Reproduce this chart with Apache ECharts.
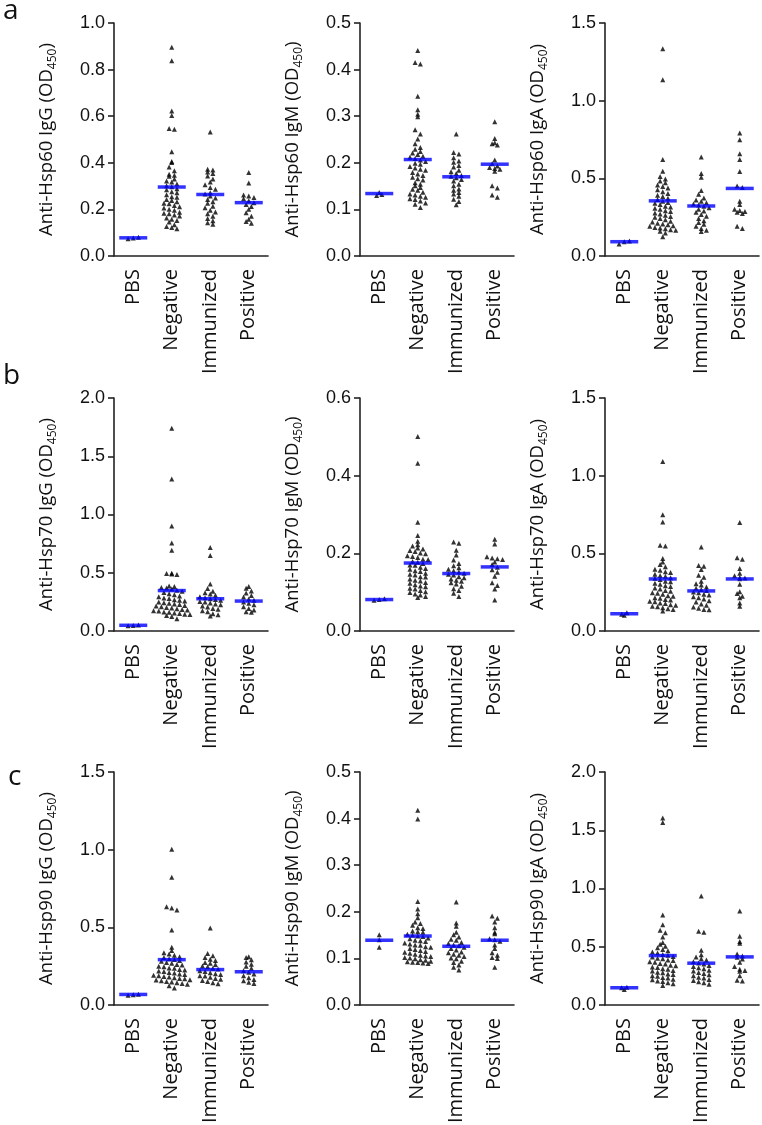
<!DOCTYPE html>
<html>
<head>
<meta charset="utf-8">
<script src="https://cdn.jsdelivr.net/npm/echarts@6/dist/echarts.min.js"></script>
<style>
  html, body { margin: 0; padding: 0; background: #fff; }
  #chart { width: 762px; height: 1125px; }
</style>
</head>
<body>
<div id="chart"></div>
<script>
const groups = ['PBS', 'Negative', 'Immunized', 'Positive']

// panel order: Hsp60 IgG/IgM/IgA, Hsp70 IgG/IgM/IgA, Hsp90 IgG/IgM/IgA
const antigens = ['Hsp60', 'Hsp60', 'Hsp60', 'Hsp70', 'Hsp70', 'Hsp70', 'Hsp90', 'Hsp90', 'Hsp90']
const isotypes = ['IgG', 'IgM', 'IgA', 'IgG', 'IgM', 'IgA', 'IgG', 'IgM', 'IgA']
const yMax = [1.0, 0.5, 1.5, 2.0, 0.6, 1.5, 1.5, 0.5, 2.0]
const yStep = [0.2, 0.1, 0.5, 0.5, 0.2, 0.5, 0.5, 0.1, 0.5]
const panelLetters = ['a', 'b', 'c']

// ---- Hsp60 ----
const hsp60IgG_pbs = [0.074, 0.077, 0.080]
const hsp60IgG_neg = [0.896, 0.838, 0.622, 0.603, 0.547, 0.544, 0.447, 0.406, 0.401, 0.382, 0.366, 0.351, 0.347, 0.342, 0.331, 0.322, 0.318, 0.309, 0.302, 0.297, 0.289, 0.284, 0.276, 0.271, 0.263, 0.254, 0.252, 0.243, 0.238, 0.233, 0.226, 0.224, 0.217, 0.211, 0.206, 0.201, 0.196, 0.188, 0.184, 0.181, 0.176, 0.172, 0.163, 0.158, 0.152, 0.146, 0.134, 0.127, 0.122, 0.117]
const hsp60IgG_imm = [0.532, 0.372, 0.369, 0.361, 0.354, 0.343, 0.331, 0.318, 0.306, 0.294, 0.287, 0.271, 0.266, 0.257, 0.249, 0.243, 0.233, 0.226, 0.214, 0.207, 0.196, 0.189, 0.181, 0.171, 0.161, 0.151, 0.143, 0.136]
const hsp60IgG_pos = [0.358, 0.313, 0.262, 0.257, 0.251, 0.246, 0.237, 0.229, 0.221, 0.212, 0.201, 0.186, 0.171, 0.158, 0.148, 0.141]
const hsp60IgG_mean = [0.078, 0.296, 0.264, 0.229]

const hsp60IgM_pbs = [0.130, 0.132, 0.136]
const hsp60IgM_neg = [0.441, 0.415, 0.412, 0.343, 0.314, 0.304, 0.299, 0.271, 0.262, 0.251, 0.241, 0.233, 0.229, 0.224, 0.221, 0.218, 0.214, 0.212, 0.209, 0.206, 0.203, 0.199, 0.197, 0.192, 0.189, 0.186, 0.184, 0.179, 0.176, 0.173, 0.169, 0.166, 0.163, 0.157, 0.154, 0.151, 0.147, 0.143, 0.141, 0.137, 0.133, 0.131, 0.128, 0.126, 0.123, 0.121, 0.118, 0.114, 0.111, 0.104]
const hsp60IgM_imm = [0.262, 0.222, 0.219, 0.211, 0.204, 0.201, 0.194, 0.191, 0.184, 0.181, 0.177, 0.173, 0.171, 0.168, 0.164, 0.161, 0.154, 0.151, 0.144, 0.141, 0.136, 0.133, 0.128, 0.122, 0.117, 0.110]
const hsp60IgM_pos = [0.288, 0.252, 0.243, 0.241, 0.238, 0.206, 0.198, 0.193, 0.190, 0.188, 0.186, 0.182, 0.151, 0.146, 0.131, 0.126]
const hsp60IgM_mean = [0.134, 0.207, 0.170, 0.197]

const hsp60IgA_pbs = [0.078, 0.091, 0.097]
const hsp60IgA_neg = [1.334, 1.134, 0.622, 0.546, 0.511, 0.496, 0.483, 0.472, 0.457, 0.448, 0.437, 0.426, 0.413, 0.403, 0.391, 0.383, 0.371, 0.364, 0.353, 0.344, 0.339, 0.331, 0.321, 0.316, 0.307, 0.301, 0.291, 0.286, 0.277, 0.271, 0.263, 0.254, 0.249, 0.241, 0.233, 0.224, 0.219, 0.211, 0.206, 0.201, 0.194, 0.191, 0.184, 0.181, 0.176, 0.169, 0.166, 0.159, 0.148, 0.124]
const hsp60IgA_imm = [0.638, 0.531, 0.507, 0.421, 0.398, 0.373, 0.361, 0.352, 0.343, 0.334, 0.329, 0.321, 0.311, 0.301, 0.289, 0.281, 0.267, 0.256, 0.241, 0.227, 0.216, 0.204, 0.191, 0.177, 0.166, 0.157]
const hsp60IgA_pos = [0.792, 0.748, 0.658, 0.621, 0.544, 0.451, 0.441, 0.352, 0.331, 0.301, 0.293, 0.287, 0.281, 0.274, 0.191, 0.177]
const hsp60IgA_mean = [0.092, 0.355, 0.322, 0.435]

// ---- Hsp70 ----
const hsp70IgG_pbs = [0.044, 0.048, 0.052]
const hsp70IgG_neg = [1.740, 1.305, 0.902, 0.756, 0.694, 0.496, 0.493, 0.489, 0.486, 0.386, 0.381, 0.374, 0.369, 0.361, 0.349, 0.341, 0.331, 0.319, 0.311, 0.301, 0.293, 0.284, 0.279, 0.269, 0.264, 0.257, 0.249, 0.243, 0.239, 0.231, 0.227, 0.219, 0.214, 0.209, 0.201, 0.197, 0.191, 0.184, 0.181, 0.174, 0.171, 0.164, 0.161, 0.154, 0.151, 0.144, 0.141, 0.133, 0.124, 0.106]
const hsp70IgG_imm = [0.716, 0.648, 0.404, 0.364, 0.341, 0.329, 0.318, 0.306, 0.294, 0.286, 0.277, 0.271, 0.263, 0.254, 0.249, 0.241, 0.231, 0.226, 0.214, 0.206, 0.194, 0.186, 0.174, 0.166, 0.149, 0.139, 0.128]
const hsp70IgG_pos = [0.382, 0.366, 0.344, 0.326, 0.304, 0.291, 0.274, 0.263, 0.249, 0.238, 0.226, 0.209, 0.194, 0.181, 0.166, 0.161]
const hsp70IgG_mean = [0.049, 0.347, 0.277, 0.257]

const hsp70IgM_pbs = [0.079, 0.081, 0.083]
const hsp70IgM_neg = [0.501, 0.432, 0.280, 0.246, 0.231, 0.222, 0.219, 0.214, 0.211, 0.207, 0.205, 0.201, 0.199, 0.194, 0.192, 0.189, 0.185, 0.184, 0.179, 0.177, 0.174, 0.170, 0.169, 0.164, 0.161, 0.159, 0.155, 0.153, 0.149, 0.146, 0.144, 0.140, 0.139, 0.134, 0.131, 0.129, 0.125, 0.123, 0.119, 0.116, 0.114, 0.110, 0.108, 0.104, 0.101, 0.099, 0.095, 0.093, 0.089, 0.086]
const hsp70IgM_imm = [0.229, 0.226, 0.208, 0.196, 0.183, 0.174, 0.168, 0.163, 0.159, 0.155, 0.152, 0.149, 0.146, 0.144, 0.140, 0.137, 0.134, 0.131, 0.128, 0.124, 0.121, 0.115, 0.109, 0.104, 0.097, 0.089]
const hsp70IgM_pos = [0.236, 0.224, 0.191, 0.188, 0.186, 0.184, 0.178, 0.171, 0.164, 0.158, 0.151, 0.141, 0.124, 0.117, 0.108, 0.080]
const hsp70IgM_mean = [0.081, 0.175, 0.148, 0.165]

const hsp70IgA_pbs = [0.101, 0.108, 0.118]
const hsp70IgA_neg = [1.092, 0.748, 0.702, 0.552, 0.548, 0.466, 0.444, 0.428, 0.413, 0.397, 0.391, 0.381, 0.376, 0.366, 0.357, 0.353, 0.343, 0.339, 0.331, 0.321, 0.317, 0.307, 0.301, 0.292, 0.287, 0.277, 0.271, 0.261, 0.256, 0.247, 0.243, 0.236, 0.227, 0.223, 0.214, 0.211, 0.203, 0.199, 0.191, 0.189, 0.181, 0.177, 0.169, 0.166, 0.159, 0.156, 0.149, 0.144, 0.138, 0.128]
const hsp70IgA_imm = [0.541, 0.422, 0.417, 0.396, 0.359, 0.346, 0.321, 0.304, 0.296, 0.284, 0.276, 0.267, 0.261, 0.251, 0.246, 0.237, 0.231, 0.221, 0.214, 0.206, 0.194, 0.186, 0.174, 0.166, 0.154, 0.146, 0.139, 0.136]
const hsp70IgA_pos = [0.698, 0.471, 0.462, 0.402, 0.372, 0.356, 0.344, 0.341, 0.336, 0.301, 0.252, 0.241, 0.223, 0.214, 0.181, 0.159]
const hsp70IgA_mean = [0.111, 0.335, 0.258, 0.335]

// ---- Hsp90 ----
const hsp90IgG_pbs = [0.062, 0.066, 0.070]
const hsp90IgG_neg = [1.002, 0.822, 0.633, 0.624, 0.611, 0.483, 0.372, 0.351, 0.337, 0.329, 0.321, 0.311, 0.306, 0.297, 0.293, 0.286, 0.281, 0.273, 0.269, 0.261, 0.257, 0.249, 0.246, 0.239, 0.236, 0.229, 0.226, 0.219, 0.216, 0.209, 0.206, 0.199, 0.197, 0.191, 0.189, 0.183, 0.181, 0.176, 0.171, 0.169, 0.163, 0.161, 0.156, 0.151, 0.148, 0.143, 0.139, 0.134, 0.124, 0.109]
const hsp90IgG_imm = [0.496, 0.331, 0.317, 0.306, 0.294, 0.286, 0.274, 0.269, 0.261, 0.251, 0.246, 0.237, 0.231, 0.221, 0.216, 0.207, 0.201, 0.196, 0.189, 0.186, 0.178, 0.171, 0.166, 0.158, 0.151, 0.143, 0.136]
const hsp90IgG_pos = [0.311, 0.306, 0.291, 0.277, 0.263, 0.249, 0.236, 0.221, 0.211, 0.199, 0.189, 0.176, 0.164, 0.156, 0.146, 0.138]
const hsp90IgG_mean = [0.068, 0.292, 0.228, 0.214]

const hsp90IgM_pbs = [0.151, 0.140, 0.124]
const hsp90IgM_neg = [0.418, 0.399, 0.222, 0.206, 0.196, 0.187, 0.178, 0.175, 0.171, 0.166, 0.164, 0.159, 0.157, 0.156, 0.152, 0.150, 0.148, 0.147, 0.144, 0.142, 0.139, 0.138, 0.136, 0.133, 0.131, 0.129, 0.128, 0.125, 0.124, 0.121, 0.119, 0.117, 0.115, 0.113, 0.111, 0.109, 0.107, 0.105, 0.104, 0.102, 0.101, 0.099, 0.097, 0.096, 0.094, 0.093, 0.092, 0.091, 0.090, 0.089]
const hsp90IgM_imm = [0.221, 0.176, 0.169, 0.156, 0.151, 0.146, 0.141, 0.139, 0.134, 0.132, 0.129, 0.127, 0.124, 0.121, 0.118, 0.114, 0.112, 0.109, 0.107, 0.104, 0.101, 0.099, 0.094, 0.091, 0.086, 0.081, 0.075]
const hsp90IgM_pos = [0.191, 0.186, 0.178, 0.166, 0.156, 0.153, 0.142, 0.140, 0.137, 0.129, 0.121, 0.112, 0.107, 0.102, 0.100, 0.081]
const hsp90IgM_mean = [0.139, 0.148, 0.126, 0.139]

const hsp90IgA_pbs = [0.134, 0.147, 0.152]
const hsp90IgA_neg = [1.606, 1.566, 0.773, 0.689, 0.641, 0.621, 0.583, 0.536, 0.521, 0.504, 0.491, 0.477, 0.466, 0.454, 0.446, 0.433, 0.426, 0.417, 0.411, 0.401, 0.396, 0.387, 0.381, 0.371, 0.366, 0.357, 0.351, 0.341, 0.336, 0.327, 0.321, 0.311, 0.306, 0.297, 0.291, 0.281, 0.276, 0.267, 0.261, 0.251, 0.246, 0.237, 0.231, 0.221, 0.216, 0.207, 0.201, 0.191, 0.183, 0.168]
const hsp90IgA_imm = [0.936, 0.634, 0.624, 0.471, 0.431, 0.413, 0.397, 0.386, 0.371, 0.361, 0.351, 0.339, 0.331, 0.319, 0.311, 0.299, 0.291, 0.279, 0.271, 0.259, 0.251, 0.239, 0.231, 0.219, 0.211, 0.199, 0.191, 0.179]
const hsp90IgA_pos = [0.806, 0.591, 0.544, 0.531, 0.437, 0.421, 0.409, 0.394, 0.366, 0.331, 0.306, 0.297, 0.289, 0.251, 0.212, 0.207]
const hsp90IgA_mean = [0.148, 0.424, 0.359, 0.413]

const panelPoints = [
  [hsp60IgG_pbs, hsp60IgG_neg, hsp60IgG_imm, hsp60IgG_pos],
  [hsp60IgM_pbs, hsp60IgM_neg, hsp60IgM_imm, hsp60IgM_pos],
  [hsp60IgA_pbs, hsp60IgA_neg, hsp60IgA_imm, hsp60IgA_pos],
  [hsp70IgG_pbs, hsp70IgG_neg, hsp70IgG_imm, hsp70IgG_pos],
  [hsp70IgM_pbs, hsp70IgM_neg, hsp70IgM_imm, hsp70IgM_pos],
  [hsp70IgA_pbs, hsp70IgA_neg, hsp70IgA_imm, hsp70IgA_pos],
  [hsp90IgG_pbs, hsp90IgG_neg, hsp90IgG_imm, hsp90IgG_pos],
  [hsp90IgM_pbs, hsp90IgM_neg, hsp90IgM_imm, hsp90IgM_pos],
  [hsp90IgA_pbs, hsp90IgA_neg, hsp90IgA_imm, hsp90IgA_pos]
]
const panelMeans = [
  hsp60IgG_mean, hsp60IgM_mean, hsp60IgA_mean,
  hsp70IgG_mean, hsp70IgM_mean, hsp70IgA_mean,
  hsp90IgG_mean, hsp90IgM_mean, hsp90IgA_mean
]

// layout
const colLeft = [114, 360, 605]
const rowTop = [23, 398, 772]
const plotW = 154
const plotH = 233
const axisColor = '#222'
const textFont = 'Open Sans'
const tickFont = 'Liberation Sans'

// column-scatter spreading: points falling in the same pixel row sit side by side
const swarmOffsets = (values, max) => {
  const rowPx = 4.6
  const step = 5.2
  const bins = {}
  values.forEach((v, i) => {
    const b = Math.round(v / max * plotH / rowPx)
    ;(bins[b] = bins[b] || []).push(i)
  })
  const off = new Array(values.length).fill(0)
  Object.values(bins).forEach(idx => {
    idx.forEach((i, k) => { off[i] = (k - (idx.length - 1) / 2) * step })
  })
  return off
}

const grids = []
const xAxes = []
const yAxes = []
const series = []

for (let p = 0; p < 9; p++) {
  const r = Math.floor(p / 3)
  const c = p % 3
  grids.push({
    left: colLeft[c], top: rowTop[r], width: plotW, height: plotH,
    containLabel: false, outerBoundsMode: 'none'
  })
  xAxes.push({
    type: 'category', gridIndex: p, data: groups,
    axisLine: { lineStyle: { color: axisColor, width: 1.6 } },
    axisTick: { alignWithLabel: true, length: 6, lineStyle: { color: axisColor, width: 1.6 } },
    axisLabel: { rotate: 90, interval: 0, margin: 13, fontSize: 20, fontFamily: textFont, color: '#111' },
    splitLine: { show: false }
  })
  yAxes.push({
    type: 'value', gridIndex: p, min: 0, max: yMax[p], interval: yStep[p],
    axisLine: { show: true, lineStyle: { color: axisColor, width: 1.6 } },
    axisTick: { show: true, length: 6, lineStyle: { color: axisColor, width: 1.6 } },
    axisLabel: { fontSize: 18, fontFamily: tickFont, color: '#111', margin: 9, formatter: v => v.toFixed(1) },
    splitLine: { show: false },
    name: `{t|Anti-${antigens[p]} ${isotypes[p]} (OD}{s|450}{t|)}`,
    nameLocation: 'middle',
    nameGap: 55,
    nameTextStyle: {
      rich: {
        t: { fontSize: 18.5, fontFamily: textFont, color: '#111', lineHeight: 24 },
        s: { fontSize: 12, fontFamily: textFont, color: '#111', lineHeight: 12, verticalAlign: 'bottom' }
      }
    }
  })

  const pts = []
  panelPoints[p].forEach((vals, g) => {
    const off = swarmOffsets(vals, yMax[p])
    vals.forEach((v, i) => pts.push({ value: [g, v], symbolOffset: [off[i], 0] }))
  })
  series.push({
    type: 'scatter', xAxisIndex: p, yAxisIndex: p,
    symbol: 'triangle', symbolSize: 5,
    itemStyle: { color: '#000' },
    data: pts, z: 2
  })
  series.push({
    type: 'scatter', xAxisIndex: p, yAxisIndex: p,
    symbol: 'rect', symbolSize: [28, 3.5],
    itemStyle: { color: '#0000ff' },
    data: panelMeans[p].map((m, g) => [g, m]), z: 3
  })
}

const letterY = [11, 376, 777]
const letterX = [3, 3, 8]

const chart = echarts.init(document.getElementById('chart'))
chart.setOption({
  animation: false,
  backgroundColor: '#fff',
  grid: grids,
  xAxis: xAxes,
  yAxis: yAxes,
  series: series,
  graphic: panelLetters.map((l, i) => ({
    type: 'text', x: letterX[i], y: letterY[i],
    style: { text: l, font: `28px "${textFont}"`, fill: '#111', verticalAlign: 'middle' }
  }))
})
</script>
</body>
</html>
